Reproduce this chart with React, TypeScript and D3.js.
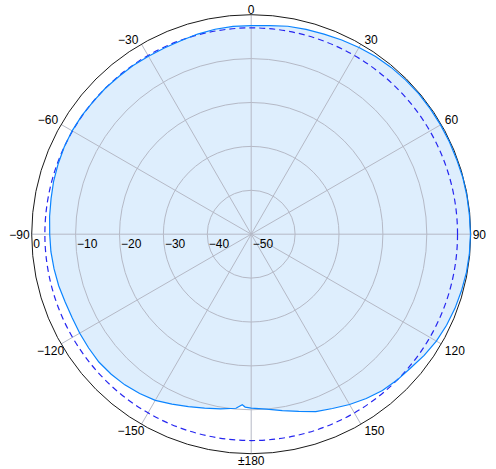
import { useEffect, useRef } from "react";
import * as d3 from "d3";

// antenna pattern, angle in degrees (clockwise from top), gain in dB
const angles = [
  -180, -178, -177, -175, -170, -165, -160, -155, -150, -145, -140, -135, -130,
  -125, -120, -115, -110, -105, -100, -95, -90, -85, -80, -75, -70, -65, -60,
  -55, -50, -45, -40, -35, -30, -25, -20, -15, -10, -5, 0, 5, 10, 15, 20, 25,
  30, 35, 40, 45, 50, 55, 60, 65, 70, 75, 80, 85, 90, 95, 100, 105, 110, 115,
  120, 125, 130, 135, 140, 145, 150, 155, 160, 165, 170, 175,
];
const gains = [
  -10.4, -10.6, -11.1, -10.2, -9.6, -9.0, -8.2, -7.3, -6.3, -5.7, -5.2, -4.9,
  -4.7, -4.8, -4.9, -5.0, -4.9, -4.6, -4.4, -4.2, -4.1, -3.9, -3.7, -3.4, -3.2,
  -3.0, -2.9, -2.9, -3.0, -3.0, -3.1, -3.1, -3.2, -3.2, -3.1, -2.8, -2.6, -2.5,
  -2.5, -2.3, -1.9, -1.7, -1.5, -1.2, -0.9, -0.6, -0.4, -0.3, -0.2, -0.2, -0.2,
  -0.2, -0.2, -0.1, -0.1, -0.1, -0.05, -0.1, -0.2, -0.4, -0.6, -0.9, -1.3, -1.9,
  -2.6, -3.0, -3.5, -4.3, -5.2, -6.2, -7.0, -8.2, -9.2, -10.0,
];
const radialTicks = [0, -10, -20, -30, -40, -50];
const angleTicks = [0, 30, 60, 90, 120, 150, 180, 210, 240, 270, 300, 330];
const halfPower = -3;

const fmt = (v: number) => (v < 0 ? "\u2212" + Math.abs(v) : String(v));

export default function App() {
  const ref = useRef<SVGSVGElement>(null);

  useEffect(() => {
    const svg = d3.select(ref.current).attr("width", 496).attr("height", 469);
    svg.selectAll("*").remove();

    const cx = 251.2;
    const cy = 234.2;
    const R = 219.5;
    const rad = (deg: number) => (deg * Math.PI) / 180;

    const r = d3.scaleLinear().domain([-50, 0]).range([0, R]);

    const g = svg.append("g").attr("transform", `translate(${cx},${cy})`);

    const pts = angles.map((a, i) => ({ a, v: gains[i] }));
    const line = d3
      .lineRadial<{ a: number; v: number }>()
      .angle((d) => rad(d.a))
      .radius((d) => r(d.v))
      .curve(d3.curveLinearClosed);

    // filled pattern
    g.append("path").attr("d", line(pts)).attr("fill", "#deeefd");

    // grid circles
    g.selectAll(".ring")
      .data(radialTicks.filter((t) => t !== 0 && t !== -50))
      .enter()
      .append("circle")
      .attr("r", (d) => r(d))
      .attr("fill", "none")
      .attr("stroke", "#b5b9c6")
      .attr("stroke-width", 1);

    // spokes
    g.selectAll(".spoke")
      .data(angleTicks)
      .enter()
      .append("line")
      .attr("x1", 0)
      .attr("y1", 0)
      .attr("x2", (d) => R * Math.sin(rad(d)))
      .attr("y2", (d) => -R * Math.cos(rad(d)))
      .attr("stroke", "#b5b9c6")
      .attr("stroke-width", 1);

    // -3 dB circle
    g.append("circle")
      .attr("r", r(halfPower))
      .attr("fill", "none")
      .attr("stroke", "#2626f0")
      .attr("stroke-width", 1.2)
      .attr("stroke-dasharray", "6,4");

    // outer circle
    g.append("circle")
      .attr("r", r(0))
      .attr("fill", "none")
      .attr("stroke", "#1a1a1a")
      .attr("stroke-width", 1);

    // pattern line
    g.append("path")
      .attr("d", line(pts))
      .attr("fill", "none")
      .attr("stroke", "#0a84ff")
      .attr("stroke-width", 1.2);

    const font = "'Liberation Sans', Arial, sans-serif";

    // angle labels
    g.selectAll(".alabel")
      .data(angleTicks)
      .enter()
      .append("text")
      .attr("font-family", font)
      .attr("font-size", 12)
      .attr("fill", "#000")
      .each(function (d) {
        const s = Math.sin(rad(d));
        const c = Math.cos(rad(d));
        const x = R * s;
        const y = -R * c;
        const t = d3.select(this);
        let anchor = "middle";
        let dx = 0;
        let dy = 0;
        if (Math.abs(s) < 0.01) {
          anchor = "middle";
          dy = c > 0 ? -1 : 11;
        } else if (Math.abs(c) < 0.01) {
          anchor = s > 0 ? "start" : "end";
          dx = s > 0 ? 2 : -2;
          dy = 4.5;
        } else {
          anchor = s > 0 ? "start" : "end";
          dx = s > 0 ? 3.5 : c > 0 ? -3 : 3;
          dy = c > 0 ? 0 : 11;
        }
        const label = d === 180 ? "\u00b1180" : fmt(d > 180 ? d - 360 : d);
        t.attr("x", x + dx)
          .attr("y", y + dy)
          .attr("text-anchor", anchor)
          .text(label);
      });

    // radial labels
    g.selectAll(".rlabel")
      .data(radialTicks)
      .enter()
      .append("text")
      .attr("font-family", font)
      .attr("font-size", 12)
      .attr("fill", "#000")
      .attr("x", (d) => -r(d) + 1.5)
      .attr("y", 13.5)
      .text((d) => fmt(d));
  }, []);

  return (
    <svg
      ref={ref}
      style={{ position: "absolute", left: 0, top: 0, background: "#fff" }}
    ></svg>
  );
}
